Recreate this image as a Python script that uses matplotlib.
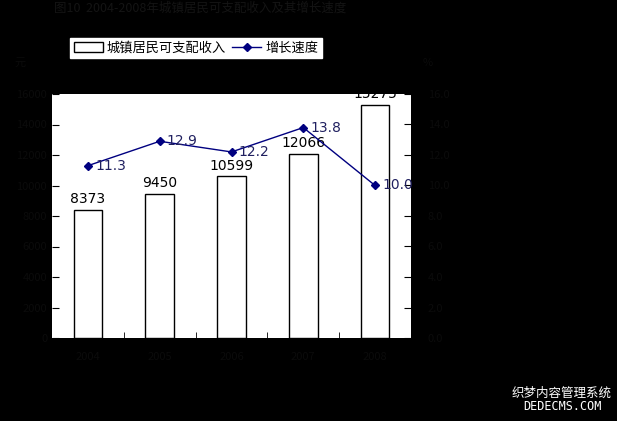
import matplotlib
matplotlib.use("Agg")
import matplotlib.pyplot as plt

years = ["2004", "2005", "2006", "2007", "2008"]
income = [8373, 9450, 10599, 12066, 15275]
growth = [11.3, 12.9, 12.2, 13.8, 10.0]
left_ticks = [0, 2000, 4000, 6000, 8000, 10000, 12000, 14000, 16000]
right_ticks = [0, 2, 4, 6, 8, 10, 12, 14, 16]

plt.rcParams["font.family"] = ["Noto Sans CJK SC", "DejaVu Sans"]
dark = "#0b0b0b"
W, H = 617, 421
fig = plt.figure(figsize=(W/100, H/100), dpi=100, facecolor="black")
ax = fig.add_axes([52/W, 1-338/H, (411-52)/W, (338-94)/H])
ax.set_facecolor("white")
x = list(range(len(years)))
ax.bar(x, income, width=0.4, facecolor="white", edgecolor="black", linewidth=1,
       label="城镇居民可支配收入")
ax.set_xlim(-0.5, 4.5)
ax.set_ylim(0, 16000)
ax.set_yticks(left_ticks)
ax.set_yticklabels([str(v) for v in left_ticks], color=dark, fontsize=8)
ax.set_xticks(x)
ax.set_xticklabels(years, color=dark, fontsize=8)
ax.set_xticks([i + 0.5 for i in range(4)], minor=True)
ax.tick_params(axis="x", which="major", length=0, pad=10)
ax.tick_params(axis="x", which="minor", direction="in", length=4)
ax.tick_params(axis="y", direction="in", length=5)
for xi, v in zip(x, income):
    ax.text(xi, v + 250, str(v), ha="center", va="bottom", fontsize=10, color="black",
            family="DejaVu Sans")
ax2 = ax.twinx()
ax2.plot(x, growth, color="#000080", marker="D", markersize=4, linewidth=1, label="增长速度")
ax2.set_ylim(0, 16)
ax2.set_yticks(right_ticks)
ax2.set_yticklabels([f"{v:.1f}" for v in right_ticks], color=dark, fontsize=8)
ax2.tick_params(axis="y", direction="in", length=5, pad=12)
for xi, v in zip(x, growth):
    ax2.text(xi + 0.1, v, f"{v:.1f}", ha="left", va="center", fontsize=10, color="#202060",
             family="DejaVu Sans")
for a in (ax, ax2):
    for s in a.spines.values():
        s.set_visible(False)
h1, l1 = ax.get_legend_handles_labels()
h2, l2 = ax2.get_legend_handles_labels()
fig.legend(h1 + h2, l1 + l2, loc="center", bbox_to_anchor=(196/W, 1-48/H), ncol=2,
           fontsize=9.5, frameon=True, fancybox=False, edgecolor="white", framealpha=1,
           handlelength=2.2, columnspacing=0.5, handletextpad=0.3, borderpad=0.3)
fig.text(200/W, 1-8/H, "图10  2004-2008年城镇居民可支配收入及其增长速度", ha="center", va="center",
         fontsize=9, color="#141414")
fig.text(20/W, 1-63/H, "元", ha="center", va="center", fontsize=8, color=dark)
fig.text(428/W, 1-63/H, "%", ha="center", va="center", fontsize=8, color=dark)
fig.text(562/W, 1-393/H, "织梦内容管理系统", ha="center", va="center", fontsize=9, color="white")
fig.text(562/W, 1-407/H, "DEDECMS.COM", ha="center", va="center", fontsize=8.5, color="white",
         family="DejaVu Sans Mono")
fig.savefig("out.png", dpi=100, facecolor="black")
